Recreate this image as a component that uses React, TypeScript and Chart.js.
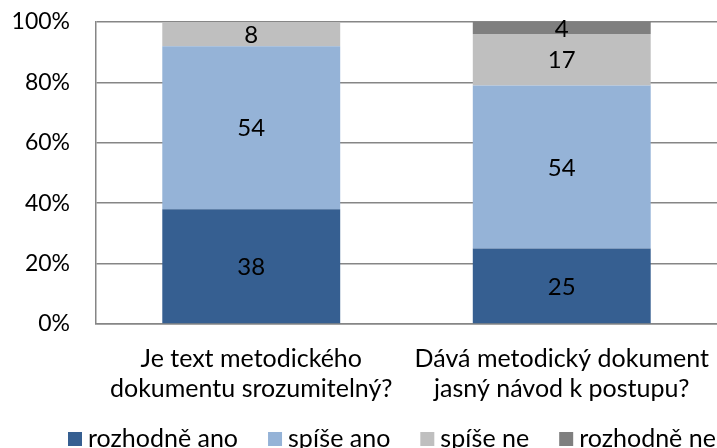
import React, { useEffect, useRef } from "react";
import { Chart, registerables } from "chart.js";

Chart.register(...registerables);

const categories: string[][] = [
  ["Je text metodického", "dokumentu srozumitelný?"],
  ["Dává metodický dokument", "jasný návod k postupu?"],
];
const seriesNames = ["rozhodně ano", "spíše ano", "spíše ne", "rozhodně ne"];
const rozhodneAno = [38, 25];
const spiseAno = [54, 54];
const spiseNe = [8, 17];
const rozhodneNe = [0, 4];
const yTicks = [0, 20, 40, 60, 80, 100];

const colors = ["#365F91", "#95B3D7", "#BFBFBF", "#7F7F7F"];
const FONT = "Lato";
const FS = 24;
const TFS = 23;
const LFS = 25;

const dataLabels = {
  id: "dataLabels",
  afterDatasetsDraw(chart: any) {
    const ctx = chart.ctx;
    ctx.save();
    ctx.font = `${FS}px ${FONT}`;
    ctx.fillStyle = "#000";
    ctx.textAlign = "center";
    ctx.textBaseline = "middle";
    chart.data.datasets.forEach((ds: any, di: number) => {
      const meta = chart.getDatasetMeta(di);
      meta.data.forEach((el: any, i: number) => {
        const v = ds.data[i];
        if (!v) return;
        ctx.fillText(String(v), el.x, (el.y + el.base) / 2 + 1);
      });
    });
    ctx.restore();
  },
};

// legend drawn below the x axis, items taken from the datasets
const bottomLegend = {
  id: "bottomLegend",
  afterDraw(chart: any) {
    const ctx = chart.ctx;
    const box = 14;
    const gap = 6;
    const itemGap = 30;
    const cy = 439;
    ctx.save();
    ctx.font = `${LFS}px ${FONT}`;
    ctx.textBaseline = "middle";
    ctx.textAlign = "left";
    let x = 68;
    chart.data.datasets.forEach((ds: any) => {
      ctx.fillStyle = ds.backgroundColor;
      ctx.fillRect(x, cy - box / 2, box, box);
      x += box + gap;
      ctx.fillStyle = "#000";
      ctx.fillText(ds.label, x, cy);
      x += ctx.measureText(ds.label).width + itemGap;
    });
    ctx.restore();
  },
};

export default function App() {
  const ref = useRef<HTMLCanvasElement>(null);
  useEffect(() => {
    const series = [rozhodneAno, spiseAno, spiseNe, rozhodneNe];
    const chart = new Chart(ref.current!, {
      type: "bar",
      data: {
        labels: categories,
        datasets: series.map((d, i) => ({
          label: seriesNames[i],
          data: d,
          backgroundColor: colors[i],
          borderWidth: 0,
          categoryPercentage: 1,
          barPercentage: 0.573,
        })),
      },
      options: {
        animation: false,
        responsive: false,
        maintainAspectRatio: false,
        layout: { padding: { top: 22, right: 0, left: 0, bottom: 40 } },
        plugins: {
          tooltip: { enabled: false },
          legend: { display: false },
        },
        scales: {
          x: {
            stacked: true,
            grid: { display: false, drawTicks: true, tickLength: 20, tickColor: "transparent" },
            border: { display: true, color: "#868686", width: 1.5 },
            ticks: {
              font: { family: FONT, size: LFS, lineHeight: 1.2 },
              color: "#000",
              padding: 0,
              maxRotation: 0,
              autoSkip: false,
            },
            afterFit: (s: any) => {
              s.height = 84;
            },
          },
          y: {
            stacked: true,
            min: 0,
            max: 100,
            afterBuildTicks: (s: any) => {
              s.ticks = yTicks.map((v) => ({ value: v }));
            },
            grid: { color: "#868686", lineWidth: 1.5, drawTicks: true, tickLength: 26, tickColor: "transparent" },
            border: { display: true, color: "#868686", width: 1.5 },
            ticks: {
              font: { family: FONT, size: TFS },
              color: "#000",
              padding: 0,
              callback: (v: any) => v + "%",
            },
            afterFit: (s: any) => {
              s.width = 96;
            },
          },
        },
      },
      plugins: [dataLabels, bottomLegend],
    });
    return () => chart.destroy();
  }, []);
  return (
    <div style={{ position: "fixed", left: 0, top: 0, width: 717, height: 448, background: "#fff" }}>
      <canvas ref={ref} width={717} height={448} style={{ width: 717, height: 448 }} />
    </div>
  );
}
